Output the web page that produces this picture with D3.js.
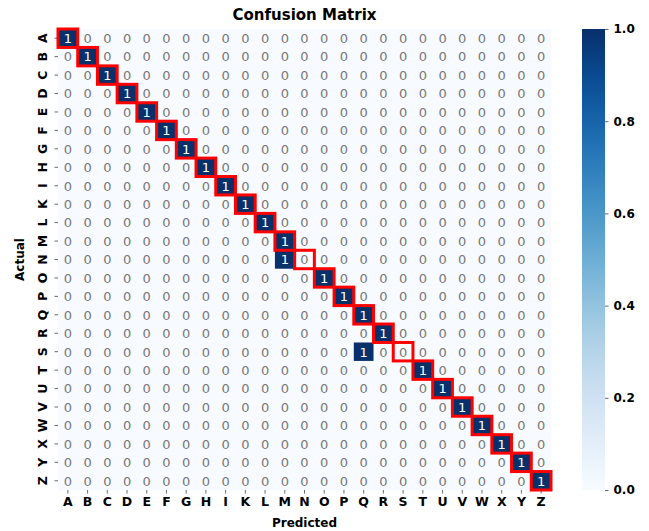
<!DOCTYPE html>
<html>
<head>
<meta charset="utf-8">
<script src="https://cdn.jsdelivr.net/npm/d3@7"></script>
<style>
  body { margin: 0; background: #fff; }
  svg { display: block; font-family: "DejaVu Sans", sans-serif; }
</style>
</head>
<body>
<svg id="chart" width="649" height="531"></svg>
<script>
// class labels (no J)
const labels = ["A","B","C","D","E","F","G","H","I","K","L","M","N","O","P","Q","R","S","T","U","V","W","X","Y","Z"];
// predicted column for each actual row (all 1 count)
const predictedFor = ["A","B","C","D","E","F","G","H","I","K","L","M","M","O","P","Q","R","Q","T","U","V","W","X","Y","Z"];
const cbarTicks = [0, 0.2, 0.4, 0.6, 0.8, 1.0];

const svg = d3.select("#chart");

const mLeft = 58, mTop = 29, w = 493, h = 461;

const x = d3.scaleBand().domain(labels).range([mLeft, mLeft + w]);
const y = d3.scaleBand().domain(labels).range([mTop, mTop + h]);
const color = d3.scaleSequential(d3.interpolateBlues).domain([0, 1]);

// build matrix cells
const cells = [];
labels.forEach((actual, i) => {
    labels.forEach(pred => {
        cells.push({ actual, pred, v: predictedFor[i] === pred ? 1 : 0 });
    });
});

const g = svg.append("g");

g.selectAll("rect.cell")
    .data(cells)
    .join("rect")
    .attr("class", "cell")
    .attr("x", d => x(d.pred))
    .attr("y", d => y(d.actual))
    .attr("width", x.bandwidth() + 0.5)
    .attr("height", y.bandwidth() + 0.5)
    .attr("fill", d => color(d.v));

g.selectAll("text.val")
    .data(cells)
    .join("text")
    .attr("class", "val")
    .attr("x", d => x(d.pred) + x.bandwidth() / 2)
    .attr("y", d => y(d.actual) + y.bandwidth() / 2)
    .attr("dy", "0.37em")
    .attr("text-anchor", "middle")
    .attr("font-size", 13)
    .attr("fill", d => d.v > 0.5 ? "#fff" : "#777")
    .text(d => d.v);

// red boxes on the diagonal
g.selectAll("rect.diag")
    .data(labels)
    .join("rect")
    .attr("class", "diag")
    .attr("x", d => x(d))
    .attr("y", d => y(d))
    .attr("width", x.bandwidth())
    .attr("height", y.bandwidth())
    .attr("fill", "none")
    .attr("stroke", "#ff0000")
    .attr("stroke-width", 3);

// axes
const xAxis = svg.append("g")
    .attr("transform", `translate(0,${mTop + h})`)
    .call(d3.axisBottom(x).tickSize(3.5).tickPadding(4));
const yAxis = svg.append("g")
    .attr("transform", `translate(${mLeft},0)`)
    .call(d3.axisLeft(y).tickSize(3.5).tickPadding(4));

[xAxis, yAxis].forEach(a => {
    a.select(".domain").remove();
    a.selectAll(".tick line").attr("stroke", "#444").attr("stroke-width", 0.8);
    a.selectAll(".tick text")
        .attr("font-family", "DejaVu Sans")
        .attr("font-size", 12.5)
        .attr("font-weight", "bold")
        .attr("fill", "#000");
});

yAxis.selectAll(".tick text")
    .attr("text-anchor", "middle")
    .attr("dy", null)
    .attr("x", null)
    .attr("transform", "translate(-16,0) rotate(-90)")
    .attr("dominant-baseline", "central");

// colorbar
const cbX = 582, cbW = 23;
const cy = d3.scaleLinear().domain([0, 1]).range([mTop + h, mTop]);
const defs = svg.append("defs");
const grad = defs.append("linearGradient")
    .attr("id", "cbar").attr("x1", 0).attr("y1", 1).attr("x2", 0).attr("y2", 0);
d3.range(0, 1.0001, 0.05).forEach(t => {
    grad.append("stop").attr("offset", t).attr("stop-color", color(t));
});
svg.append("rect")
    .attr("x", cbX).attr("y", mTop)
    .attr("width", cbW).attr("height", h)
    .attr("fill", "url(#cbar)");

const cAxis = svg.append("g")
    .attr("transform", `translate(${cbX + cbW},0)`)
    .call(d3.axisRight(cy).tickValues(cbarTicks).tickFormat(d3.format(".1f")).tickSize(3.5).tickPadding(5));
cAxis.select(".domain").remove();
cAxis.selectAll(".tick line").attr("stroke", "#444").attr("stroke-width", 0.8);
cAxis.selectAll(".tick text")
    .attr("font-family", "DejaVu Sans")
    .attr("font-size", 12)
    .attr("font-weight", "bold")
    .attr("fill", "#000");

// titles
svg.append("text")
    .attr("x", mLeft + w / 2)
    .attr("y", 20)
    .attr("text-anchor", "middle")
    .attr("font-size", 15)
    .attr("font-weight", "bold")
    .text("Confusion Matrix");

svg.append("text")
    .attr("x", mLeft + w / 2)
    .attr("y", 527)
    .attr("text-anchor", "middle")
    .attr("font-size", 12)
    .attr("font-weight", "bold")
    .text("Predicted");

svg.append("text")
    .attr("transform", `translate(24,${mTop + h / 2}) rotate(-90)`)
    .attr("text-anchor", "middle")
    .attr("font-size", 12)
    .attr("font-weight", "bold")
    .text("Actual");
</script>
</body>
</html>
